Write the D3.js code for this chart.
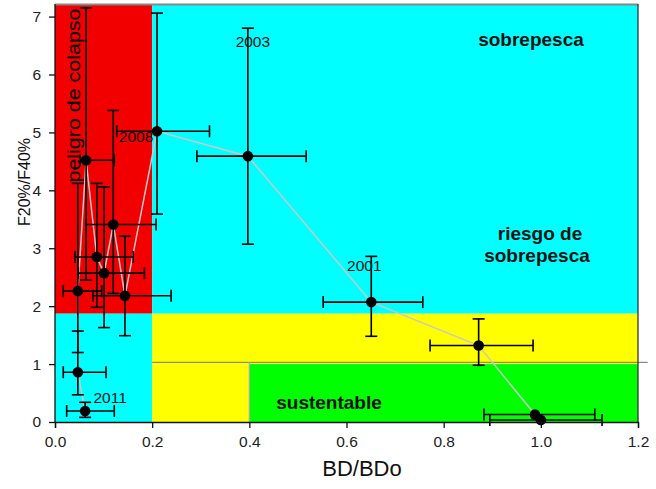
<!DOCTYPE html>
<html><head><meta charset="utf-8">
<script src="https://cdn.jsdelivr.net/npm/d3@7"></script>
<style>body{margin:0;background:#fff}svg{display:block}text{font-family:"Liberation Sans",Arial,sans-serif}</style>
</head><body><svg id="c" width="656" height="489"></svg>
<script>
// BD/BDo (x) and F20%/F40% (y), in path order
const bd   = [1.0, 0.988, 0.872, 0.651, 0.397, 0.21, 0.144, 0.12, 0.101, 0.086, 0.064, 0.047, 0.047, 0.062];
const f    = [0.035, 0.13, 1.32, 2.07, 4.59, 5.02, 2.18, 3.41, 2.57, 2.85, 4.52, 2.26, 0.86, 0.19];
const bdLo = [0.895, 0.883, 0.772, 0.552, 0.292, 0.127, 0.078, 0.064, 0.048, 0.041, 0.052, 0.017, 0.017, 0.024];
const bdHi = [1.126, 1.111, 0.984, 0.757, 0.517, 0.318, 0.239, 0.208, 0.184, 0.161, 0.122, 0.096, 0.105, 0.122];
const fLo  = [0.035, 0.13, 0.98, 1.48, 3.07, 3.59, 1.49, 2.22, 1.63, 1.98, 2.45, 1.20, 0.47, 0.08];
const fHi  = [0.035, 0.13, 1.78, 2.86, 6.80, 7.06, 3.21, 5.38, 4.06, 4.12, 7.15, 4.12, 1.57, 0.34];
const yearLabels = ["2003", "2008", "2001", "2011"];
const yearIdx    = [4, 5, 3, 13];
const xTicks = [0, 0.2, 0.4, 0.6, 0.8, 1.0, 1.2];
const yTicks = [0, 1, 2, 3, 4, 5, 6, 7];
const zoneNames = ["peligro de colapso", "sobrepesca", "riesgo de sobrepesca", "sustentable"];

const svg = d3.select("#c");
const x = d3.scaleLinear().domain([0, 1.2]).range([55, 638]);
const y = d3.scaleLinear().domain([0, 7.2]).range([422, 5]);

// zones
const zones = [
  {x0:0, x1:0.2, y0:1.87, y1:7.2, c:"#f20000"},
  {x0:0.2, x1:1.2, y0:1.87, y1:7.2, c:"#00ffff"},
  {x0:0, x1:0.2, y0:0, y1:1.87, c:"#00ffff"},
  {x0:0.2, x1:1.2, y0:1.0, y1:1.87, c:"#ffff00"},
  {x0:0.2, x1:0.4, y0:0, y1:1.0, c:"#ffff00"},
  {x0:0.4, x1:1.2, y0:0, y1:1.0, c:"#00ff00"}
];
svg.selectAll("rect.z").data(zones).join("rect")
  .attr("x", d => x(d.x0)).attr("y", d => y(d.y1))
  .attr("width", d => x(d.x1) - x(d.x0)).attr("height", d => y(d.y0) - y(d.y1))
  .attr("fill", d => d.c);

// gray reference lines
svg.append("line").attr("x1", x(0.2)).attr("x2", x(1.22)).attr("y1", y(1.03)).attr("y2", y(1.03))
  .attr("stroke", "#8f8f80").attr("stroke-width", 1.3);
svg.append("line").attr("x1", x(0.4)).attr("x2", x(0.4)).attr("y1", y(0)).attr("y2", y(1.03))
  .attr("stroke", "#aaa").attr("stroke-width", 1.3);

// frame
svg.append("line").attr("x1", x(0)).attr("x2", x(1.2)).attr("y1", 4.5).attr("y2", 4.5).attr("stroke", "#888").attr("stroke-width", 2);
svg.append("line").attr("x1", x(1.2)).attr("x2", x(1.2)).attr("y1", 4).attr("y2", y(0)).attr("stroke", "#333").attr("stroke-width", 1.3);

// zone labels
svg.append("text").attr("transform", `translate(79.5,95.5) rotate(-90)`).attr("text-anchor", "middle")
  .attr("font-size", 19).attr("fill", "#000")
  .attr("textLength", 174).attr("lengthAdjust", "spacingAndGlyphs").text(zoneNames[0]);
const bold = {"font-size": 19, "font-weight": "bold", "fill": "#111", "text-anchor": "middle"};
const tb = (sel) => { Object.entries(bold).forEach(([k, v]) => sel.attr(k, v)); return sel; };
tb(svg.append("text")).attr("x", 531).attr("y", 46).text(zoneNames[1]);
const rz = tb(svg.append("text"));
rz.append("tspan").attr("x", 540).attr("y", 240).text("riesgo de");
rz.append("tspan").attr("x", 537).attr("y", 262).text("sobrepesca");
tb(svg.append("text")).attr("x", 329).attr("y", 409).text(zoneNames[3]);

// connecting line
const pts = bd.map((v, i) => [v, f[i]]);
svg.append("path").attr("d", d3.line().x(d => x(d[0])).y(d => y(d[1]))(pts))
  .attr("fill", "none").attr("stroke", "#c8c8c8").attr("stroke-width", 1.5);

// error bars
const cap = 6;
const eb = svg.append("g").attr("stroke", "#000").attr("stroke-width", 1.6).attr("fill", "none");
bd.forEach((v, i) => {
  const cx = x(v), cy = y(f[i]);
  if (fHi[i] - fLo[i] > 0.02) {
    eb.append("line").attr("x1", cx).attr("x2", cx).attr("y1", y(fLo[i])).attr("y2", y(fHi[i]));
    eb.append("line").attr("x1", cx - cap).attr("x2", cx + cap).attr("y1", y(fLo[i])).attr("y2", y(fLo[i]));
    eb.append("line").attr("x1", cx - cap).attr("x2", cx + cap).attr("y1", y(fHi[i])).attr("y2", y(fHi[i]));
  }
  eb.append("line").attr("x1", x(bdLo[i])).attr("x2", x(bdHi[i])).attr("y1", cy).attr("y2", cy);
  eb.append("line").attr("x1", x(bdLo[i])).attr("x2", x(bdLo[i])).attr("y1", cy - cap).attr("y2", cy + cap);
  eb.append("line").attr("x1", x(bdHi[i])).attr("x2", x(bdHi[i])).attr("y1", cy - cap).attr("y2", cy + cap);
});

// points
svg.selectAll("circle.p").data(pts).join("circle")
  .attr("cx", d => x(d[0])).attr("cy", d => y(d[1])).attr("r", 5.3).attr("fill", "#000");

// year labels
const yl = svg.append("g").attr("font-size", 15.5).attr("fill", "#111");
const offs = [[5, -109], [-21, 11], [-7, -31], [25, -8]];
yearLabels.forEach((t, k) => {
  const i = yearIdx[k];
  yl.append("text").attr("x", x(bd[i]) + offs[k][0]).attr("y", y(f[i]) + offs[k][1])
    .attr("text-anchor", "middle").text(t);
});

// axes
const xa = svg.append("g").attr("transform", `translate(0,${y(0)})`)
  .call(d3.axisBottom(x).tickValues(xTicks).tickFormat(d3.format(".1f")).tickSizeOuter(0).tickSize(6));
const ya = svg.append("g").attr("transform", `translate(${x(0)},0)`)
  .call(d3.axisLeft(y).tickValues(yTicks).tickFormat(d3.format("d")).tickSizeOuter(0).tickSize(6).tickPadding(8));
[xa, ya].forEach(a => {
  a.select(".domain").attr("stroke", "#111").attr("stroke-width", 1.3);
  a.selectAll(".tick line").attr("stroke", "#111").attr("stroke-width", 1.3);
  a.selectAll("text").attr("font-size", 15.5).attr("fill", "#222").style("font-family", '"Liberation Sans",Arial,sans-serif');
});
ya.select(".domain").attr("d", `M0,${y(0)}V4`);
xa.selectAll("text").attr("dy", "1.0em");

svg.append("text").attr("x", 362).attr("y", 476).attr("text-anchor", "middle").attr("font-size", 22)
  .attr("fill", "#111").text("BD/BDo");
svg.append("text").attr("transform", "translate(30,182) rotate(-90)").attr("text-anchor", "middle")
  .attr("font-size", 16).attr("fill", "#111").text("F20%/F40%");
</script></body></html>
